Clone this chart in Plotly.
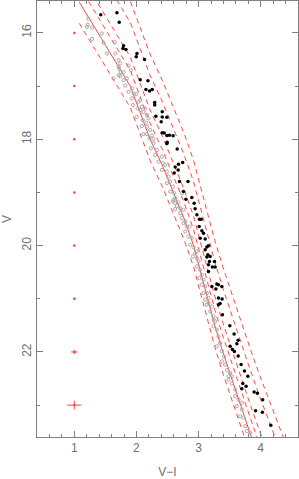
import plotly.graph_objects as go

# ---- data ----
# ridge line (solid) : V-I vs V
ridge_VI = [1.08, 1.38, 1.64, 1.90, 2.06, 2.22, 2.42, 2.60, 2.77, 2.92, 3.03,
            3.14, 3.26, 3.39, 3.53, 3.67, 3.82, 3.97, 4.13, 4.30, 4.46]
ridge_V = [15.42, 16.0, 16.5, 17.0, 17.5, 18.0, 18.5, 19.0, 19.5, 20.0, 20.5,
           21.0, 21.5, 22.0, 22.5, 23.0, 23.5, 24.0, 24.5, 25.0, 25.5]
# dashed envelopes (same colours as ridge, magnitudes)
left_V = [15.82, 16.4, 16.9, 17.4, 17.9, 18.4, 18.9, 19.4, 19.9, 20.4, 20.9,
          21.4, 21.9, 22.4, 22.9, 23.4, 23.9, 24.4, 24.9, 25.4, 25.9]
right1_V = [15.12, 15.7, 16.2, 16.7, 17.2, 17.7, 18.2, 18.7, 19.2, 19.7, 20.2,
            20.7, 21.2, 21.7, 22.2, 22.7, 23.2, 23.7, 24.2, 24.7, 25.2]
right2_V = [14.87, 15.45, 15.95, 16.45, 16.95, 17.45, 17.95, 18.45, 18.95, 19.45, 19.95,
            20.45, 20.95, 21.45, 21.95, 22.45, 22.95, 23.45, 23.95, 24.45, 24.95]
right3_V = [14.22, 14.8, 15.3, 15.8, 16.3, 16.8, 17.3, 17.8, 18.3, 18.8, 19.3,
            19.8, 20.3, 20.8, 21.3, 21.8, 22.3, 22.8, 23.3, 23.8, 24.3]
right4_V = [13.82, 14.4, 14.9, 15.4, 15.9, 16.4, 16.9, 17.4, 17.9, 18.4, 18.9,
            19.4, 19.9, 20.4, 20.9, 21.4, 21.9, 22.4, 22.9, 23.4, 23.9]

# binary candidates (black)
bin_VI = [1.426, 1.686, 1.723, 1.793, 1.783, 1.831, 2.008, 1.997, 2.130, 2.061,
          2.185, 2.153, 2.211, 2.254, 2.294, 2.294, 2.415, 2.313, 2.415, 2.490,
          2.399, 2.415, 2.447, 2.490, 2.532, 2.590, 2.495, 2.490, 2.656, 2.744,
          2.677, 2.624, 2.672, 2.608, 2.693, 2.830, 2.757, 2.892, 2.796, 2.929,
          2.945, 2.973, 3.014, 3.042, 3.010, 3.053, 3.079, 3.026, 3.106, 3.159,
          3.133, 3.106, 3.150, 3.186, 3.133, 3.256, 3.175, 3.159, 3.223, 3.267,
          3.159, 3.294, 3.320, 3.375, 3.214, 3.278, 3.320, 3.379, 3.347, 3.320,
          3.384, 3.503, 3.572, 3.637, 3.616, 3.508, 3.545, 3.576, 3.637, 3.685,
          3.738, 3.793, 3.712, 3.765, 3.696, 3.894, 3.947, 4.031, 3.918, 4.027,
          4.162]
bin_V = [15.658, 15.621, 15.80, 16.24, 16.293, 16.312, 16.387, 16.45, 16.499, 16.882,
         16.901, 17.063, 17.094, 17.063, 17.307, 17.357, 17.483, 17.569, 17.583, 17.588,
         17.671, 17.877, 17.883, 17.930, 17.926, 17.935, 18.057, 18.080, 18.183, 18.437,
         18.469, 18.521, 18.577, 18.634, 18.797, 18.793, 18.985, 19.094, 19.127, 19.203,
         19.306, 19.422, 19.503, 19.503, 19.642, 19.723, 19.766, 19.860, 19.878, 20.004,
         20.028, 20.079, 20.173, 20.205, 20.216, 20.299, 20.299, 20.361, 20.404, 20.404,
         20.487, 20.723, 20.736, 20.768, 20.768, 20.817, 20.986, 21.003, 21.087, 21.112,
         21.299, 21.506, 21.662, 21.782, 21.848, 21.891, 21.956, 21.994, 22.075, 22.238,
         22.360, 22.458, 22.595, 22.645, 22.694, 22.754, 22.777, 22.901, 23.105, 23.133,
         23.378]

# single stars (grey)
single_VI = [1.225, 1.217, 1.204, 1.285, 1.285, 1.445, 1.471, 1.651, 1.659, 1.526,
             1.712, 1.740, 1.873, 1.712, 1.723, 1.912, 1.748, 1.793, 1.715, 1.740,
             1.632, 1.847, 1.793, 1.820, 1.928, 1.873, 1.953, 1.997, 1.928, 2.061,
             2.034, 1.944, 2.088, 2.141, 2.061, 2.114, 2.018, 2.008, 2.169, 2.195,
             2.101, 2.158, 2.088, 2.169, 2.222, 2.114, 2.169, 2.249, 2.211, 2.275,
             2.275, 2.233, 2.330, 2.302, 2.410, 2.355, 2.426, 2.463, 2.410, 2.490,
             2.516, 2.543, 2.490, 2.587, 2.543, 2.608, 2.732, 2.624, 2.596, 2.587,
             2.677, 2.624, 2.651, 2.704, 2.624, 2.757, 2.704, 2.732, 2.785, 2.757,
             2.812, 2.854, 2.785, 2.838, 2.892, 2.865, 2.918, 2.973, 2.945, 2.908,
             2.973, 2.998, 2.973, 3.026, 3.053, 3.014, 3.079, 3.053, 3.106, 3.133,
             3.079, 3.159, 3.106, 3.159, 3.133, 3.214, 3.187, 3.240, 3.240, 3.267,
             3.240, 3.294, 3.320, 3.347, 3.294, 3.375, 3.412, 3.375, 3.428, 3.455,
             3.508, 3.481, 3.535, 3.481, 3.535, 3.588, 3.588, 3.641, 3.696, 3.616,
             3.696, 3.669, 3.722, 3.749, 3.777, 3.830]
single_V = [15.733, 15.846, 15.887, 15.899, 16.113, 16.011, 16.188, 16.175, 16.387, 16.387,
            16.512, 16.574, 16.616, 16.638, 16.681, 16.700, 16.738, 16.738, 16.794, 16.813,
            16.856, 16.856, 16.888, 16.991, 17.044, 17.108, 17.138, 17.151, 17.231, 17.263,
            17.295, 17.357, 17.389, 17.419, 17.451, 17.489, 17.419, 17.577, 17.545, 17.607,
            17.639, 17.689, 17.751, 17.765, 17.827, 17.902, 17.902, 17.930, 17.982, 17.995,
            18.076, 18.170, 18.202, 18.296, 18.328, 18.422, 18.452, 18.484, 18.577, 18.609,
            18.703, 18.797, 18.827, 18.891, 18.985, 19.015, 19.015, 19.109, 19.141, 19.172,
            19.187, 19.203, 19.253, 19.296, 19.315, 19.328, 19.390, 19.484, 19.548, 19.578,
            19.642, 19.642, 19.736, 19.829, 19.854, 19.985, 20.032, 20.111, 20.141, 20.205,
            20.235, 20.295, 20.393, 20.455, 20.548, 20.611, 20.642, 20.736, 20.768, 20.892,
            20.892, 20.986, 21.018, 21.080, 21.112, 21.144, 21.237, 21.331, 21.393, 21.425,
            21.519, 21.581, 21.707, 21.831, 21.894, 21.988, 22.088, 22.176, 22.238, 22.341,
            22.394, 22.458, 22.458, 22.520, 22.595, 22.707, 22.833, 22.895, 22.957, 23.020,
            23.083, 23.209, 23.233, 23.396, 23.490, 23.520]

# photometric errors at V-I = 1
err_VI = [1, 1, 1, 1, 1, 1, 1, 1]
err_V = [16, 17, 18, 19, 20, 21, 22, 23]
err_x = [0.005, 0.005, 0.006, 0.008, 0.012, 0.02, 0.05, 0.115]
err_y = [0.004, 0.005, 0.006, 0.008, 0.012, 0.018, 0.04, 0.085]

RED = "rgb(255,70,70)"
AX = "#808080"

fig = go.Figure()

def add_line(y, dash):
    fig.add_trace(go.Scatter(x=ridge_VI, y=y, mode="lines",
                             line=dict(color=RED, width=1, dash=dash),
                             hoverinfo="skip", showlegend=False))

add_line(ridge_V, "solid")
for arr in (left_V, right1_V, right2_V, right3_V, right4_V):
    add_line(arr, "5px,4px")

fig.add_trace(go.Scatter(x=single_VI, y=single_V, mode="markers",
                         marker=dict(symbol="circle-open", size=3.2, color="#a8a8a8",
                                     line=dict(width=1, color="#a8a8a8")),
                         showlegend=False))
fig.add_trace(go.Scatter(x=bin_VI, y=bin_V, mode="markers",
                         marker=dict(symbol="circle", size=3.5, color="black"),
                         showlegend=False))
fig.add_trace(go.Scatter(x=err_VI, y=err_V, mode="markers",
                         marker=dict(symbol="circle", size=2.5, color=RED),
                         error_x=dict(type="data", array=err_x, color=RED, thickness=1, width=0),
                         error_y=dict(type="data", array=err_y, color=RED, thickness=1, width=0),
                         showlegend=False))

font = dict(family="Liberation Sans, Arial, sans-serif", size=12, color="#707070")

fig.update_layout(
    width=299, height=479,
    margin=dict(l=37, r=1, t=1, b=42),
    paper_bgcolor="white", plot_bgcolor="white",
    font=font,
    showlegend=False,
    xaxis=dict(range=[0.4, 4.6], tick0=1, dtick=1, ticks="inside", ticklen=6,
               tickcolor=AX, tickwidth=1, showline=True, linecolor=AX, linewidth=1,
               mirror="ticks", showgrid=False, zeroline=False,
               minor=dict(dtick=0.2, tick0=0, ticks="inside", ticklen=3, tickcolor=AX, showgrid=False),
               title=dict(text="V−I", standoff=16, font=font),
               tickfont=font, automargin=False),
    yaxis=dict(range=[23.6, 15.4], tick0=16, dtick=2, ticks="inside", ticklen=6,
               tickcolor=AX, tickwidth=1, showline=True, linecolor=AX, linewidth=1,
               mirror="ticks", showgrid=False, zeroline=False, tickangle=-90,
               minor=dict(dtick=1, tick0=15, ticks="inside", ticklen=3, tickcolor=AX, showgrid=False),
               title=dict(text="V", standoff=10, font=font),
               tickfont=font, automargin=False),
)

fig.write_html("out.html", config={"displayModeBar": False},
               post_script="document.body.style.margin='0px';document.body.style.overflow='hidden';")
